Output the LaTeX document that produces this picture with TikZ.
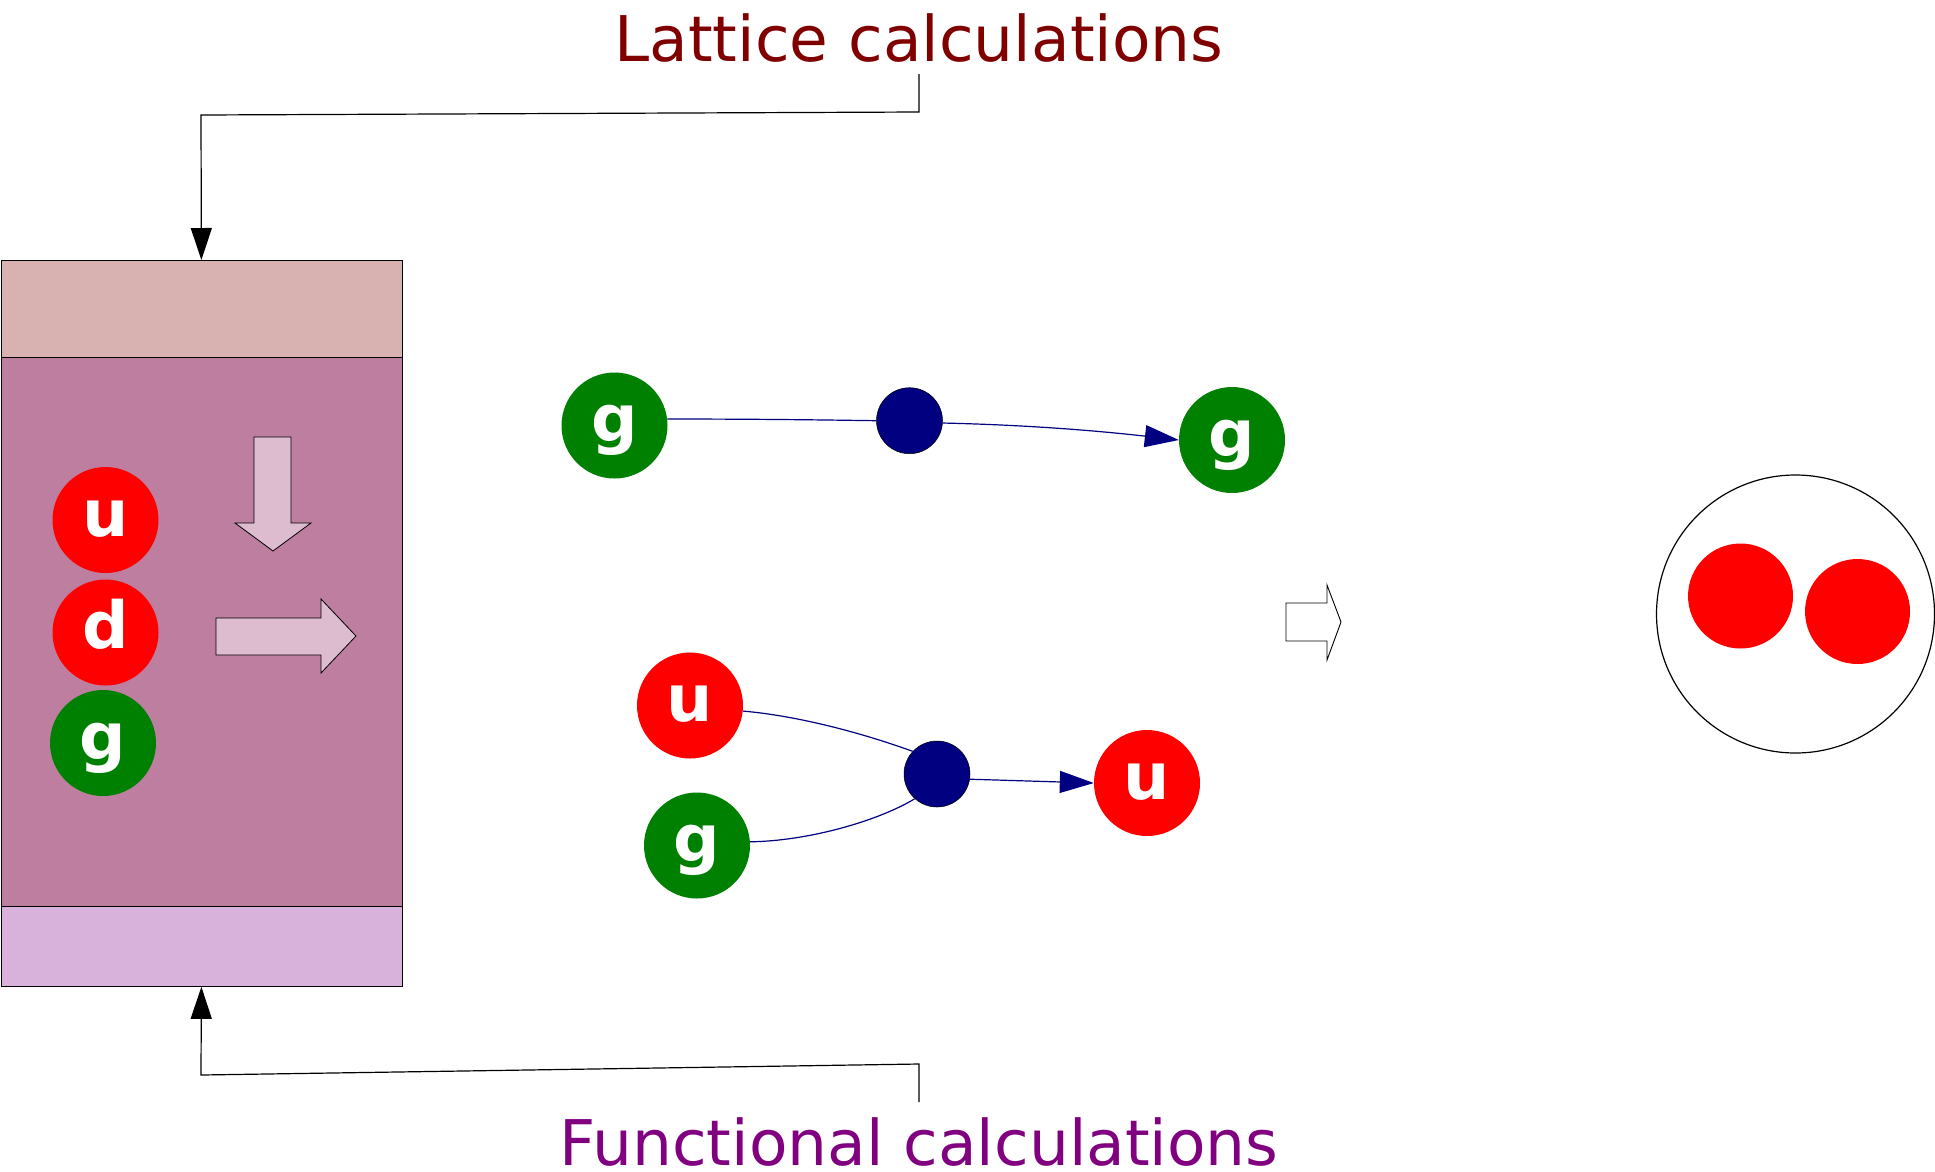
\documentclass[tikz,border=0pt]{standalone}
\usepackage{fontspec}
\setmainfont{DejaVu Sans}
\usetikzlibrary{arrows.meta}
\definecolor{bandtop}{RGB}{216,177,177}
\definecolor{bandmid}{RGB}{190,126,160}
\definecolor{bandbot}{RGB}{216,178,218}
\definecolor{arrowfill}{RGB}{222,188,208}
\definecolor{qred}{RGB}{255,0,0}
\definecolor{qgreen}{RGB}{0,128,0}
\definecolor{qnavy}{RGB}{0,0,128}
\definecolor{latred}{RGB}{128,0,0}
\definecolor{funpurple}{RGB}{128,0,128}
\tikzset{
  band/.style={rectangle, draw=black, line width=0.8pt, minimum width=401pt, inner sep=0pt, anchor=north west},
  particle/.style={circle, minimum size=106pt, inner sep=0pt, text=white,
    font=\bfseries\fontsize{65}{65}\selectfont, text height=35pt, text depth=3pt},
  quark/.style={particle, fill=qred},
  gluon/.style={particle, fill=qgreen},
  vertexdot/.style={circle, fill=qnavy, draw=black, line width=0.5pt, minimum size=66pt, inner sep=0pt},
  flow/.style={draw=qnavy, line width=1.2pt},
  flowarrow/.style={flow, -{Triangle[length=34pt,width=22pt]}},
  conn/.style={draw=black, line width=1.2pt},
  connarrow/.style={conn, -{Triangle[length=32pt,width=21pt]}},
  bigarrow/.style={draw=black, line width=0.8pt, fill=arrowfill},
  title/.style={anchor=base, inner sep=0pt, font=\fontsize{63}{70}\selectfont}
}
\begin{document}
\begin{tikzpicture}[x=1pt,y=-1pt]
\useasboundingbox (0,0) rectangle (1935,1171);

% left box
\node[band, fill=bandtop, minimum height=97pt] (topband) at (0.5,260) {};
\node[band, fill=bandmid, minimum height=549pt] (midband) at (0.5,357) {};
\node[band, fill=bandbot, minimum height=80pt] (botband) at (0.5,906) {};

\node[quark] (bu) at (105.5,520) {u};
\node[quark] (bd) at (105.5,632.5) {d};
\node[gluon] (bg) at (103,743) {g};

% block arrows in the box
\draw[bigarrow] (254,437) -- (291,437) -- (291,523) -- (311,523) -- (273,551) -- (235,523) -- (254,523) -- cycle;
\draw[bigarrow] (216,618) -- (321,618) -- (321,599) -- (356,636) -- (321,673) -- (321,655) -- (216,655) -- cycle;

% titles
\node[title, text=latred] (lat) at (919,61) {Lattice calculations};
\node[title, text=funpurple] (fun) at (919,1165) {Functional calculations};
\coordinate (latfoot) at (919,74);
\coordinate (funtop) at (919,1102);

\draw[connarrow] (latfoot) -- (919,112) -- (201,115) -- (topband.north);
\draw[connarrow] (funtop) -- (919,1064) -- (201,1075) -- (botband.south);

% top process g -> g
\node[gluon] (gL) at (614.5,425.5) {g};
\node[vertexdot] (v1) at (909.5,420.7) {};
\node[gluon] (gR) at (1232,440) {g};
\draw[flow] (gL.7) .. controls (760,419) and (830,420) .. (v1.west);
\draw[flowarrow] (v1.-4) .. controls (1030,425) and (1100,431) .. (gR.west);

% bottom process u g -> u
\node[quark] (uL) at (690,705.5) {u};
\node[gluon] (gB) at (697,845.5) {g};
\node[vertexdot] (v2) at (937,774) {};
\node[quark] (uR) at (1147,783) {u};
\draw[flow] (uL.-6) .. controls (800,716) and (865,734) .. (v2.137);
\draw[flow] (gB.4) .. controls (810,841) and (880,820) .. (v2.228);
\draw[flowarrow] (v2.-9) -- (uR.west);

% hollow arrow
\draw[draw=black, line width=0.9pt, fill=white] (1286,603) -- (1327,603) -- (1327,585) -- (1341,622) -- (1327,660) -- (1327,641) -- (1286,641) -- cycle;

% bound state
\node[circle, draw=black, line width=1.2pt, fill=white, minimum size=278pt, inner sep=0pt] (hadron) at (1795.5,614) {};
\node[circle, fill=qred, minimum size=105pt, inner sep=0pt] (q1) at (1740.5,596) {};
\node[circle, fill=qred, minimum size=105pt, inner sep=0pt] (q2) at (1857.5,611.5) {};
\end{tikzpicture}
\end{document}
